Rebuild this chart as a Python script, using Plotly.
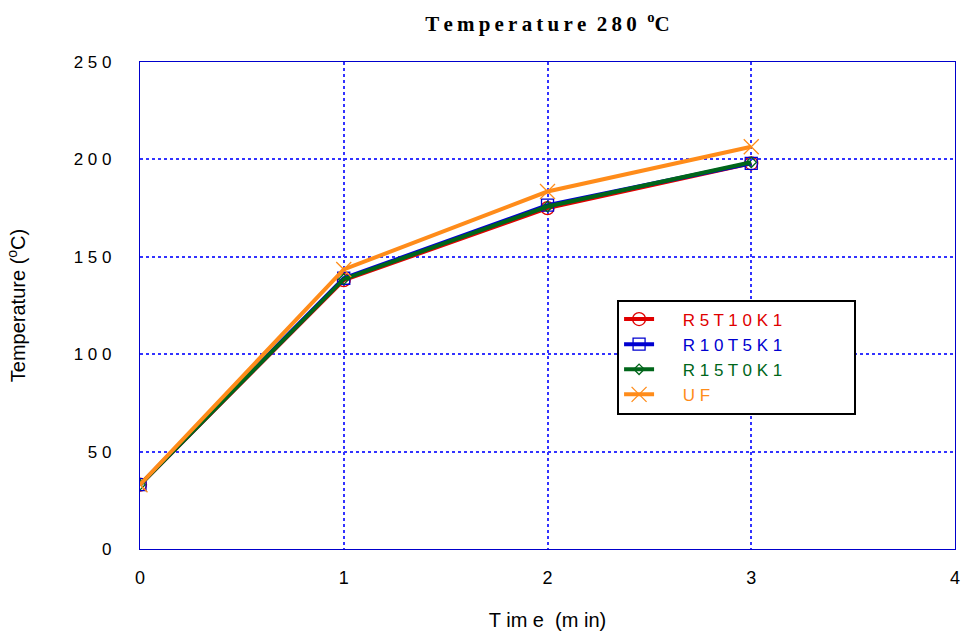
import plotly.graph_objects as go

time_min = [0, 1, 2, 3]
r5t10k1 = [33, 138, 175, 198]
r10t5k1 = [33, 139, 176.5, 198]
r15t0k1 = [33, 138.5, 175.8, 198.5]
uf = [33, 143.5, 183.5, 206.5]

x_ticks = [0, 1, 2, 3, 4]
x_ticktext = ["0", "1", "2", "3", "4"]
y_ticks = [0, 50, 100, 150, 200, 250]
y_ticktext = ["0", "5 0", "1 0 0", "1 5 0", "2 0 0", "2 5 0"]

LEAD = "\u00a0" * 5
PAD = "\u00a0" * 14
series = [
    ("R 5 T 1 0 K 1", r5t10k1, "#E00000", "circle-open", 13),
    ("R 1 0 T 5 K 1", r10t5k1, "#0000D0", "square-open", 12),
    ("R 1 5 T 0 K 1", r15t0k1, "#00661A", "diamond-open", 8),
    ("U F", uf, "#FF8C1A", "x-thin-open", 15),
]

BLUE = "#0000CC"
GRID = "#3333FF"
fig = go.Figure()
for name, vals, color, sym, size in series:
    fig.add_trace(go.Scatter(
        x=time_min, y=vals, mode="lines+markers",
        name=f'{LEAD}<span style="color:{color}">{name}</span>{PAD}',
        line=dict(color=color, width=4),
        marker=dict(symbol=sym, size=size, color=color, line=dict(color=color, width=1.3)),
    ))

title_txt = "\u2009".join("Temperature") + "  2\u20098\u20090  <sup>o</sup>C"

fig.update_layout(
    width=966, height=634,
    margin=dict(l=140, r=6, t=62, b=84),
    paper_bgcolor="white", plot_bgcolor="white",
    title=dict(text=title_txt, xref="paper", x=0.5, xanchor="center", y=0.975, yanchor="top",
               font=dict(family="Liberation Serif", size=21, color="black", weight="bold")),
    font=dict(family="Liberation Sans", size=17, color="black"),
    legend=dict(x=(620 - 140) / 820, y=(550 - 300) / 488, xanchor="left", yanchor="top",
                xref="paper", yref="paper",
                bordercolor="black", borderwidth=2, bgcolor="white",
                font=dict(size=17), tracegroupgap=0),
    showlegend=True,
)
fig.update_xaxes(range=[0, 4], tickvals=x_ticks, ticktext=x_ticktext,
                 showline=True, linecolor=BLUE, linewidth=1.2, mirror=True,
                 showgrid=True, gridcolor=GRID, griddash="3px,3px", gridwidth=1.5,
                 zeroline=False, ticks="", tickfont=dict(size=18), ticklabelstandoff=12,
                 title=dict(text="T im e  (m in)", font=dict(size=20), standoff=26))
fig.update_yaxes(range=[0, 250], tickvals=y_ticks, ticktext=y_ticktext,
                 showline=True, linecolor=BLUE, linewidth=1.2, mirror=True,
                 showgrid=True, gridcolor=GRID, griddash="3px,3px", gridwidth=1.5,
                 zeroline=False, ticks="", tickfont=dict(size=17), ticklabelstandoff=24,
                 title=dict(text="Temperature (<sup>o</sup>C)", font=dict(size=20), standoff=42))

fig.write_html("out.html")
